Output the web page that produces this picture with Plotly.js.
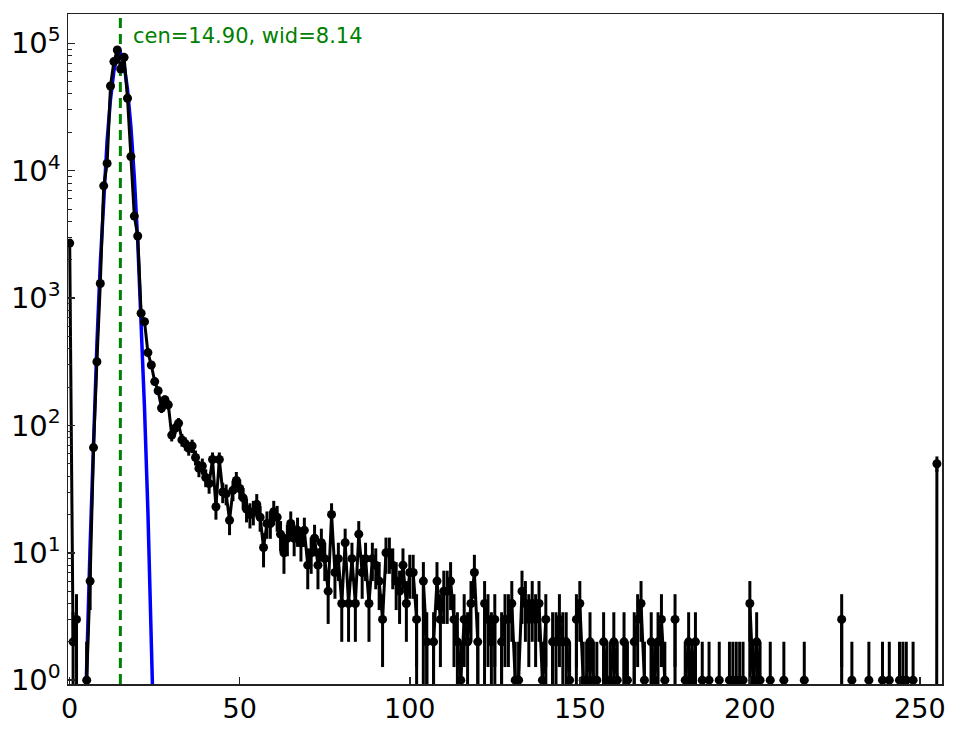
<!DOCTYPE html>
<html>
<head>
<meta charset="utf-8">
<script src="https://cdn.plot.ly/plotly-3.0.1.min.js"></script>
<style>
  body { margin: 0; background: #fff; }
  #plot { width: 964px; height: 729px; }
</style>
</head>
<body>
<div id="plot"></div>
<script>
// histogram counts, one per bin (bin i sits at x = i)
var counts = [
  2700, 2, 3, 0, 0, 1, 6, 67, 316, 1300, 7600, 11400, 46200, 71800, 88500, 62800,
  77600, 37000, 12900, 4400, 3070, 760, 653, 373, 298, 221, 187, 137, 159, 145, 84, 95,
  104, 77, 72, 66, 69, 56, 46, 48, 39, 35, 54, 23, 54, 30, 29, 18,
  31, 37, 32, 27, 22, 20, 21, 24, 19, 11, 17, 17, 21, 19, 14, 10,
  13, 17, 13, 15, 12, 15, 8, 10, 13, 8, 12, 9, 5, 20, 7, 9,
  4, 12, 4, 9, 4, 14, 7, 9, 4, 9, 8, 6, 3, 10, 10, 8,
  6, 5, 8, 4, 7, 7, 3, 0, 6, 2, 0, 2, 6, 3, 5, 5,
  6, 3, 2, 1, 3, 2, 4, 7, 2, 0, 4, 3, 2, 3, 0, 2,
  3, 3, 4, 1, 1, 5, 4, 3, 4, 3, 4, 1, 3, 0, 2, 2,
  3, 2, 2, 1, 0, 3, 4, 1, 1, 2, 1, 1, 0, 2, 1, 1,
  2, 1, 0, 2, 1, 0, 2, 3, 4, 1, 0, 2, 1, 2, 3, 1,
  0, 0, 3, 0, 0, 1, 2, 1, 2, 0, 1, 0, 1, 0, 0, 1,
  0, 0, 1, 1, 1, 1, 1, 0, 4, 1, 2, 1, 0, 0, 1, 0,
  0, 0, 1, 0, 0, 0, 0, 0, 1, 0, 0, 0, 0, 0, 0, 0,
  0, 0, 0, 3, 0, 0, 1, 0, 0, 0, 0, 1, 0, 0, 0, 1,
  0, 1, 0, 0, 1, 1, 1, 0, 1, 0, 0, 0, 0, 0, 0, 50
];

// gaussian fit curve
var fitX = [3, 4, 5, 6, 7, 8, 9, 10, 11, 12, 13, 14, 15, 16, 17, 18, 19, 20, 21, 22, 23, 24, 25, 26];
var fitY = [0.008, 0.12, 1.3, 11.4, 80, 436, 1880, 6410, 17200, 36400, 60800, 79900, 82800,
            67600, 43500, 22100, 8840, 2790, 693, 136, 20.9, 2.55, 0.24, 0.018];

var cen = 14.90;
var wid = 8.14;

var xTicks = [0, 50, 100, 150, 200, 250];
var yTicks = [1, 10, 100, 1000, 10000, 100000];
var yTickText = ['10<sup>0</sup>', '10<sup>1</sup>', '10<sup>2</sup>', '10<sup>3</sup>', '10<sup>4</sup>', '10<sup>5</sup>'];

function drawChart() {
    var bins = [];
    var yPlot = [];
    var errs = [];
    for (var i = 0; i < counts.length; i++) {
        bins.push(i);
        // empty bins are clipped far below the axis, like matplotlib does
        yPlot.push(counts[i] > 0 ? counts[i] : 1e-30);
        errs.push(Math.sqrt(counts[i]));
    }

    var minorTicks = [];
    for (var p = 0; p <= 5; p++) {
        for (var m = 2; m <= 9; m++) {
            minorTicks.push(m * Math.pow(10, p));
        }
    }

    var fit = {
        x: fitX,
        y: fitY,
        mode: 'lines',
        type: 'scatter',
        line: {color: '#0000ff', width: 3.5},
        hoverinfo: 'skip'
    };

    var data = {
        x: bins,
        y: yPlot,
        mode: 'lines+markers',
        type: 'scatter',
        line: {color: 'black', width: 3, simplify: false},
        marker: {color: 'black', size: 9},
        error_y: {type: 'data', array: errs, visible: true, color: 'black', thickness: 3, width: 0}
    };

    var layout = {
        width: 964,
        height: 729,
        margin: {l: 68, r: 22, t: 14, b: 45},
        paper_bgcolor: 'white',
        plot_bgcolor: 'white',
        showlegend: false,
        font: {family: 'DejaVu Sans', color: 'black'},
        xaxis: {
            range: [-0.5, 256.5],
            tickmode: 'array',
            tickvals: xTicks,
            ticks: 'inside',
            ticklen: 7,
            tickwidth: 1.5,
            tickcolor: '#222',
            showline: true,
            mirror: true,
            linecolor: '#222',
            linewidth: 1.5,
            showgrid: false,
            zeroline: false,
            tickfont: {size: 27}
        },
        yaxis: {
            type: 'log',
            range: [-0.03, 5.23],
            tickmode: 'array',
            tickvals: yTicks,
            ticktext: yTickText,
            ticks: 'inside',
            ticklen: 7,
            tickwidth: 1.5,
            tickcolor: '#222',
            showline: true,
            mirror: true,
            linecolor: '#222',
            linewidth: 1.5,
            showgrid: false,
            zeroline: false,
            tickfont: {size: 29},
            minor: {tickmode: 'array', tickvals: minorTicks, ticks: 'inside', ticklen: 3.5, tickwidth: 1, tickcolor: '#222', showgrid: false}
        },
        shapes: [{
            type: 'line', xref: 'x', yref: 'paper',
            x0: cen, x1: cen, y0: 0, y1: 1,
            line: {color: '#008000', width: 3, dash: '10px,6px'},
            layer: 'below'
        }],
        annotations: [{
            xref: 'x', yref: 'paper',
            x: cen + 3.0, y: 0.967,
            xanchor: 'left', yanchor: 'middle',
            text: 'cen=' + cen.toFixed(2) + ', wid=' + wid.toFixed(2),
            showarrow: false,
            font: {size: 21, color: '#008000'}
        }]
    };

    Plotly.newPlot('plot', [fit, data], layout, {staticPlot: true});
}

drawChart();
</script>
</body>
</html>
